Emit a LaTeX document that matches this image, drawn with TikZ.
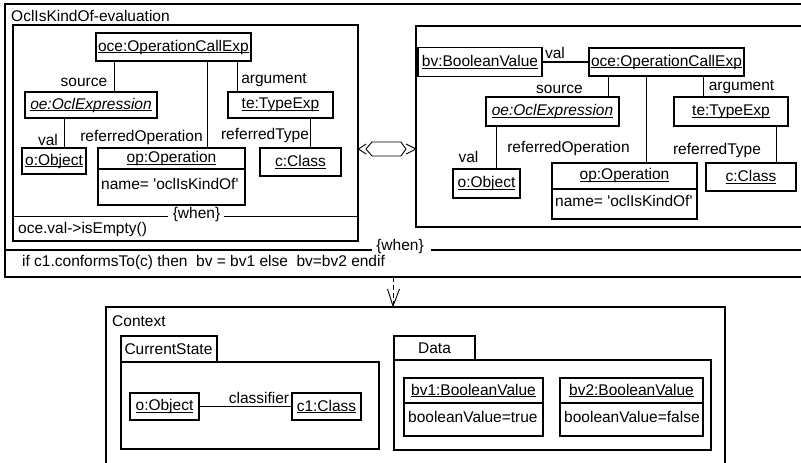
\documentclass[tikz,border=0pt]{standalone}
\usepackage{fontspec}
\setmainfont{Liberation Sans}[Ligatures=TeXOff]
\newcommand\uln[1]{\setbox0\hbox{#1}\leavevmode\rlap{\rule[-2.2pt]{\wd0}{0.9pt}}\box0}
\begin{document}
\begin{tikzpicture}[x=1pt,y=-1pt,
  every node/.style={font=\fontsize{15.5}{18}\selectfont, inner sep=0pt},
  frameline/.style={line width=1.1pt},
  obj/.style={draw, line width=1.1pt},
  conn/.style={line width=0.9pt},
  attr/.style={anchor=west}]
\useasboundingbox (0,0) rectangle (801,463);

% ---------- outer frame ----------
\coordinate (ftl) at (5,4);
\coordinate (fbl) at (5,277);
\coordinate (fw1) at (5,250);
\coordinate (fw2) at (372,250);
\coordinate (fw3) at (431,250);
\coordinate (fw4) at (801,250);
\draw[frameline] (801,4) -- (ftl) -- (fbl) -- (801,277);
\draw[frameline] (fw4) -- (fw3) (fw2) -- (fw1);
\node[anchor=west] (ftitle) at (11,16) {OclIsKindOf-evaluation};
\node (fwhen) at (400,246) {\{when\}};
\node[anchor=west] (fcond) at (22,262) {if c1.conformsTo(c) then\ \ bv = bv1 else\ \ bv=bv2 endif};
\coordinate (fbot) at (393,277);

% ---------- left box ----------
\node[obj, minimum width=345pt, minimum height=216pt] (lbox) at (185.5,133) {};
\node (lwhen) at (196.5,214) {\{when\}};
\draw[conn] (lbox.west |- 0,216) -- (168,216);
\draw[conn] (224,216) -- (lbox.east |- 0,216);
\node[anchor=west] (lcond) at (18,229) {oce.val->isEmpty()};

\node[obj, minimum width=155pt, minimum height=28pt] (oce) at (173.5,47) {\uln{oce:OperationCallExp}};
\node[obj, minimum width=132pt, minimum height=26pt] (oe) at (91,105) {\uln{\itshape oe:OclExpression}};
\node[obj, minimum width=105pt, minimum height=26pt] (te) at (280.5,105) {\uln{te:TypeExp}};
\node[obj, minimum width=64pt, minimum height=26pt] (o) at (54,161) {\uln{o:Object}};
\node[obj, minimum width=147pt, minimum height=57pt] (op) at (171.5,176.5) {};
\node (opt) at (171.5,158.5) {\uln{op:Operation}};
\node[attr] (opa) at (101,184) {name= 'oclIsKindOf'};
\draw[obj] (op.west |- 0,169) -- (op.east |- 0,169);
\node[obj, minimum width=81pt, minimum height=28pt] (c) at (300.5,162) {\uln{c:Class}};

\draw[conn] (114,0 |- oce.south) -- (114,0 |- oe.north);
\draw[conn] (237,0 |- oce.south) -- (237,0 |- te.north);
\draw[conn] (207,0 |- oce.south) -- (207,0 |- op.north);
\draw[conn] (64,0 |- oe.south) -- (64,0 |- o.north);
\draw[conn] (310,0 |- te.south) -- (310,0 |- c.north);
\node (l1) at (84,82) {source};
\node (l2) at (274,80) {argument};
\node (l3) at (141.5,137) {referredOperation};
\node (l4) at (48,140) {val};
\node (l5) at (265,135) {referredType};

% ---------- right box ----------
\draw[frameline] (801,26) -- (416,26) -- (416,227) -- (801,227);
\coordinate (rboxw) at (416,149);

\node[obj, minimum width=124pt, minimum height=29pt] (bv) at (480,62) {\uln{bv:BooleanValue}};
\node[obj, minimum width=155pt, minimum height=28pt] (oce2) at (666.5,62) {\uln{oce:OperationCallExp}};
\node[obj, minimum width=133pt, minimum height=29pt] (oe2) at (552.5,111.5) {\uln{\itshape oe:OclExpression}};
\node[obj, minimum width=114pt, minimum height=29pt] (te2) at (731,111.5) {\uln{te:TypeExp}};
\node[obj, minimum width=67pt, minimum height=29pt] (o2) at (486.5,183.5) {\uln{o:Object}};
\node[obj, minimum width=145pt, minimum height=56pt] (op2) at (624.5,191) {};
\node (op2t) at (624.5,175.5) {\uln{op:Operation}};
\node[attr] (op2a) at (555,201) {name= 'oclIsKindOf'};
\draw[obj] (op2.west |- 0,189) -- (op2.east |- 0,189);
\node[obj, minimum width=90pt, minimum height=28pt] (c2) at (751,177) {\uln{c:Class}};

\draw[line width=2.6pt] (bv.east) -- (oce2.west);
\draw[conn] (608,0 |- oce2.south) -- (608,0 |- oe2.north);
\draw[conn] (646,0 |- oce2.south) -- (646,0 |- op2.north);
\draw[conn] (703,0 |- oce2.south) -- (703,0 |- te2.north);
\draw[conn] (496,0 |- oe2.south) -- (496,0 |- o2.north);
\draw[conn] (776,0 |- te2.south) -- (776,0 |- c2.north);
\node (r0) at (555,53) {val};
\node (r1) at (559.5,89) {source};
\node (r2) at (741.5,87) {argument};
\node (r3) at (568.5,148) {referredOperation};
\node (r4) at (468.5,157) {val};
\node (r5) at (717,150) {referredType};

% ---------- hexagon connector ----------
\coordinate (hl) at (lbox.east |- 0,149);
\draw[conn] (366,144) -- (hl) -- (366,154);
\draw[conn] (366,149) -- (372,142) -- (401,142) -- (406,149) -- (401,156) -- (372,156) -- cycle;
\draw[conn] (406,144) -- (rboxw) -- (406,154);

% ---------- context ----------
\draw[frameline] (106,463) -- (106,307) -- (725,307) -- (725,463);
\coordinate (ctx) at (393,306);
\node[anchor=west] (ctitle) at (112,321) {Context};
\draw[conn, dash pattern=on 5pt off 3pt] (fbot) -- (ctx);
\draw[conn, line join=miter] (387.5,289) -- (ctx) -- (399.5,289);

\node[obj, minimum width=96pt, minimum height=26pt, text width=89pt, inner xsep=3.5pt, align=left] (cstab) at (169,349) {CurrentState};
\node[obj, minimum width=258pt, minimum height=87pt] (csbody) at (250,405.5) {};
\node[obj, minimum width=69pt, minimum height=27pt] (o3) at (164.5,406.5) {\uln{o:Object}};
\node[obj, minimum width=69pt, minimum height=27pt] (c3) at (326.5,406.5) {\uln{c1:Class}};
\draw[conn] (o3) -- (c3);
\node (cl) at (259,398) {classifier};

\node[obj, minimum width=81pt, minimum height=24pt] (dtab) at (434.5,348) {Data};
\node[obj, minimum width=317pt, minimum height=90pt] (dbody) at (552.5,405) {};

\node[obj, minimum width=139pt, minimum height=58pt] (bv1) at (473.5,407) {};
\node (bv1t) at (473.5,390.5) {\uln{bv1:BooleanValue}};
\draw[obj] (bv1.west |- 0,403) -- (bv1.east |- 0,403);
\node[attr] (bv1a) at (408,417) {booleanValue=true};

\node[obj, minimum width=143pt, minimum height=58pt] (bv2) at (631.5,407) {};
\node (bv2t) at (631.5,390.5) {\uln{bv2:BooleanValue}};
\draw[obj] (bv2.west |- 0,403) -- (bv2.east |- 0,403);
\node[attr] (bv2a) at (564,417) {booleanValue=false};
\end{tikzpicture}
\end{document}
